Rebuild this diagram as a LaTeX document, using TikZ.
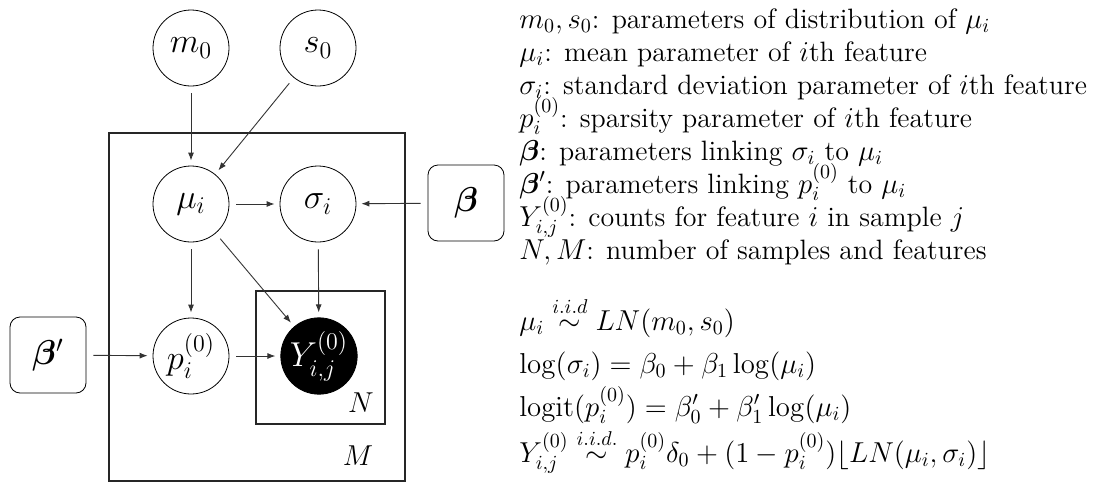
\documentclass[tikz,border=0pt]{standalone}
\usepackage{amsmath,bm}
\usetikzlibrary{arrows.meta}
\begin{document}
\begin{tikzpicture}[x=0.5pt,y=-0.5pt,
 latent/.style={circle,draw,line width=0.4pt,minimum size=38pt,inner sep=0pt,font=\LARGE},
 obs/.style={latent,fill=black,text=white},
 param/.style={draw,rounded corners=5pt,minimum size=38pt,inner sep=0pt,font=\LARGE,line width=0.4pt},
 plate/.style={draw=black!85,line width=1.4pt},
 edge/.style={-{Latex[length=4pt,width=3pt]},draw=black!80,line width=0.45pt,shorten <=3.5pt,shorten >=2.5pt},
 desc/.style={anchor=base west,inner sep=0pt,font=\fontsize{14}{16}\selectfont},
 eqn/.style={anchor=base west,inner sep=0pt,font=\fontsize{14.7}{17}\selectfont},
 platelab/.style={font=\Large,inner sep=0pt}]
\useasboundingbox (0,0) rectangle (1094,483);
% plates
\draw[plate] (109,133) rectangle (405,481);
\draw[plate] (256,291) rectangle (385,424);
\node[platelab] (Nlab) at (361,403) {$N$};
\node[platelab] (Mlab) at (358,456) {$M$};
% nodes
\node[latent] (m0) at (191,48) {$m_0$};
\node[latent] (s0) at (318,48) {$s_0$};
\node[latent] (mu) at (191,204) {$\mu_i$};
\node[latent] (sig) at (318,204) {$\sigma_i$};
\node[latent] (p) at (191,356) {$p_i^{(0)}$};
\node[obs] (Y) at (319,356) {$Y_{i,j}^{(0)}$};
\node[param] (beta) at (466,203) {$\boldsymbol{\beta}$};
\node[param] (betap) at (48,355) {$\boldsymbol{\beta}'$};
% edges
\draw[edge] (m0) -- (mu);
\draw[edge] (s0) -- (mu);
\draw[edge] (mu) -- (sig);
\draw[edge] (beta) -- (sig);
\draw[edge] (mu) -- (p);
\draw[edge] (mu) -- (Y);
\draw[edge] (sig) -- (Y);
\draw[edge] (betap) -- (p);
\draw[edge] (p) -- (Y);
% description
\node[desc] (t1) at (519,28) {$m_0, s_0$: parameters of distribution of $\mu_i$};
\node[desc] (t2) at (519,61) {$\mu_i$: mean parameter of $i$th feature};
\node[desc] (t3) at (519,94) {$\sigma_i$: standard deviation parameter of $i$th feature};
\node[desc] (t4) at (519,127) {$p_i^{(0)}$: sparsity parameter of $i$th feature};
\node[desc] (t5) at (519,160) {$\boldsymbol{\beta}$: parameters linking $\sigma_i$ to $\mu_i$};
\node[desc] (t6) at (519,193) {$\boldsymbol{\beta}'$: parameters linking $p_i^{(0)}$ to $\mu_i$};
\node[desc] (t7) at (519,226) {$Y_{i,j}^{(0)}$: counts for feature $i$ in sample $j$};
\node[desc] (t8) at (519,259) {$N, M$: number of samples and features};
% equations
\node[eqn] (e1) at (519,330) {$\mu_i \overset{i.i.d}{\sim} LN(m_0, s_0)$};
\node[eqn] (e2) at (519,373) {$\log(\sigma_i) = \beta_0 + \beta_1 \log(\mu_i)$};
\node[eqn] (e3) at (519,416) {$\operatorname{logit}(p_i^{(0)}) = \beta'_0 + \beta'_1 \log(\mu_i)$};
\node[eqn] (e4) at (519,462) {$Y_{i,j}^{(0)} \overset{i.i.d.}{\sim} p_i^{(0)}\delta_0 + (1-p_i^{(0)})\lfloor LN(\mu_i,\sigma_i)\rfloor$};
\end{tikzpicture}
\end{document}
